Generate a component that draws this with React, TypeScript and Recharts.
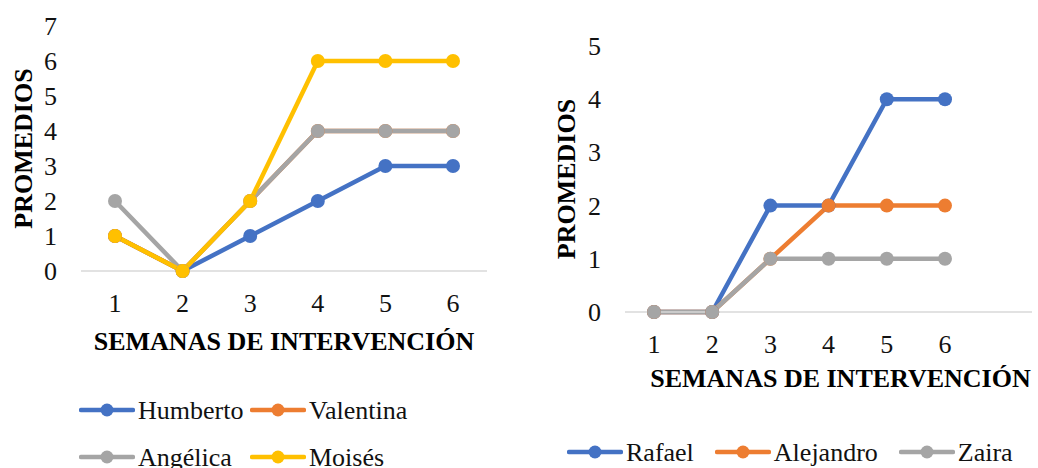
import { Label, Line, LineChart, XAxis, YAxis } from 'recharts'

// semanas de intervención
const weeks = ['1', '2', '3', '4', '5', '6']

// grupo 1
const humberto = [1, 0, 1, 2, 3, 3]
const valentina = [1, 0, 2, 4, 4, 4]
const angelica = [2, 0, 2, 4, 4, 4]
const moises = [1, 0, 2, 6, 6, 6]
const leftTicks = [0, 1, 2, 3, 4, 5, 6, 7]

// grupo 2
const rafael = [0, 0, 2, 2, 4, 4]
const alejandro = [0, 0, 1, 2, 2, 2]
const zaira = [0, 0, 1, 1, 1, 1]
const rightTicks = [0, 1, 2, 3, 4, 5]

const BLUE = '#4472C4'
const ORANGE = '#ED7D31'
const GRAY = '#A5A5A5'
const YELLOW = '#FFC000'

const FONT = '"Liberation Serif", "Times New Roman", serif'

const leftSeries = [
  { name: 'Humberto', values: humberto, color: BLUE },
  { name: 'Valentina', values: valentina, color: ORANGE },
  { name: 'Angélica', values: angelica, color: GRAY },
  { name: 'Moisés', values: moises, color: YELLOW },
]

const rightSeries = [
  { name: 'Rafael', values: rafael, color: BLUE },
  { name: 'Alejandro', values: alejandro, color: ORANGE },
  { name: 'Zaira', values: zaira, color: GRAY },
]

type Series = { name: string; values: number[]; color: string }

const toRows = (series: Series[]) =>
  weeks.map((w, i) => {
    const row: Record<string, string | number> = { week: w }
    series.forEach((s) => {
      row[s.name] = s.values[i]
    })
    return row
  })

const XTick = ({ x, y, payload }: any) => (
  <text x={x} y={y} dy={41} textAnchor='middle' fontSize={26} fontFamily={FONT} fill='#111'>
    {payload.value}
  </text>
)

const YTick = ({ x, y, payload }: any) => (
  <text x={x} y={y} dy={9} textAnchor='end' fontSize={26} fontFamily={FONT} fill='#111'>
    {payload.value}
  </text>
)

const titleStyle = { fontSize: 26, fontFamily: FONT, fontWeight: 700, fill: '#000' }

const YTitle = ({ viewBox, value, baseX }: any) => {
  const cy = viewBox.y + viewBox.height / 2
  return (
    <text x={baseX} y={cy} transform={`rotate(-90, ${baseX}, ${cy})`} textAnchor='middle' style={titleStyle}>
      {value}
    </text>
  )
}

const XTitle = ({ viewBox, value, dx = 0, dy }: any) => (
  <text x={viewBox.x + viewBox.width / 2 + dx} y={viewBox.y + dy} textAnchor='middle' style={titleStyle}>
    {value}
  </text>
)

const LegendIcon = ({ color }: { color: string }) => (
  <svg width={56} height={16} style={{ display: 'block' }}>
    <line x1={2} y1={8} x2={54} y2={8} stroke={color} strokeWidth={4.5} strokeLinecap='round' />
    <circle cx={28} cy={8} r={6.5} fill={color} />
  </svg>
)

const LegendItem = ({ s }: { s: Series }) => (
  <div style={{ display: 'flex', alignItems: 'center', height: 47 }}>
    <LegendIcon color={s.color} />
    <span style={{ marginLeft: 3, fontSize: 26, fontFamily: FONT, color: '#111', lineHeight: '47px' }}>{s.name}</span>
  </div>
)

const renderLines = (series: Series[]) =>
  series.map((s) => (
    <Line
      key={s.name}
      dataKey={s.name}
      type='linear'
      stroke={s.color}
      strokeWidth={4.5}
      dot={{ r: 7, fill: s.color, stroke: s.color, strokeWidth: 0 }}
      activeDot={false}
      isAnimationActive={false}
    />
  ))

export default function App() {
  return (
    <div
      style={{
        position: 'absolute',
        left: 0,
        top: 0,
        width: 1038,
        height: 468,
        overflow: 'hidden',
        background: '#fff',
      }}
    >
      <div style={{ position: 'absolute', left: 0, top: 0 }}>
        <LineChart width={520} height={468} data={toRows(leftSeries)} margin={{ top: 26, right: 33, left: 0, bottom: 0 }}>
          <XAxis
            dataKey='week'
            height={197}
            padding={{ left: 34, right: 34 }}
            tickLine={false}
            tickSize={0}
            tickMargin={0}
            axisLine={{ stroke: '#D9D9D9', strokeWidth: 1.5 }}
            tick={<XTick />}
          >
            <Label content={(p: any) => <XTitle {...p} value='SEMANAS DE INTERVENCIÓN' dy={79} />} />
          </XAxis>
          <YAxis
            domain={[0, 7]}
            ticks={leftTicks}
            width={81}
            axisLine={false}
            tickLine={false}
            tickSize={0}
            tickMargin={24}
            tick={<YTick />}
          >
            <Label content={(p: any) => <YTitle {...p} value='PROMEDIOS' baseX={32} />} />
          </YAxis>
          {renderLines(leftSeries)}
        </LineChart>
      </div>

      <div style={{ position: 'absolute', left: 520, top: 0 }}>
        <LineChart width={518} height={468} data={toRows(rightSeries)} margin={{ top: 46, right: 6, left: 0, bottom: 0 }}>
          <XAxis
            dataKey='week'
            height={156}
            padding={{ left: 29, right: 87 }}
            tickLine={false}
            tickSize={0}
            tickMargin={0}
            axisLine={{ stroke: '#D9D9D9', strokeWidth: 1.5 }}
            tick={<XTick />}
          >
            <Label content={(p: any) => <XTitle {...p} value='SEMANAS DE INTERVENCIÓN' dx={12} dy={75} />} />
          </XAxis>
          <YAxis
            domain={[0, 5]}
            ticks={rightTicks}
            width={105}
            axisLine={false}
            tickLine={false}
            tickSize={0}
            tickMargin={24}
            tick={<YTick />}
          >
            <Label content={(p: any) => <YTitle {...p} value='PROMEDIOS' baseX={55} />} />
          </YAxis>
          {renderLines(rightSeries)}
        </LineChart>
      </div>

      <div
        style={{
          position: 'absolute',
          left: 79,
          top: 386.5,
          display: 'grid',
          gridTemplateColumns: '171px 171px',
        }}
      >
        {leftSeries.map((s) => (
          <LegendItem key={s.name} s={s} />
        ))}
      </div>

      <div style={{ position: 'absolute', left: 567, top: 428.5, display: 'flex', gap: 21 }}>
        {rightSeries.map((s) => (
          <LegendItem key={s.name} s={s} />
        ))}
      </div>
    </div>
  )
}
